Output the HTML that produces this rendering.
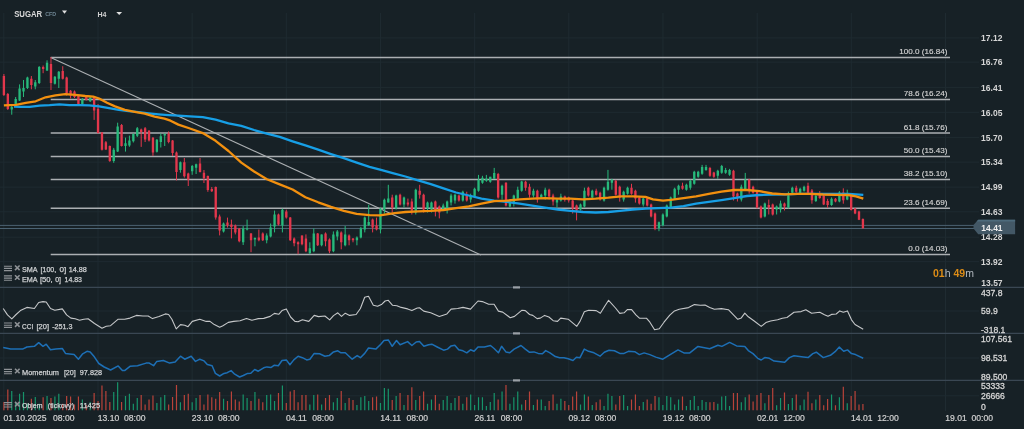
<!DOCTYPE html>
<html><head><meta charset="utf-8"><title>SUGAR H4</title>
<style>html,body{margin:0;padding:0;background:#172126;width:1024px;height:429px;overflow:hidden}</style>
</head><body>
<svg width="1024" height="429" viewBox="0 0 1024 429" style="display:block"><rect width="1024" height="429" fill="#172126"/><path d="M3.80 12.9V411 M97.97 12.9V411 M192.14 12.9V411 M286.31 12.9V411 M380.48 12.9V411 M474.65 12.9V411 M568.82 12.9V411 M662.99 12.9V411 M757.16 12.9V411 M851.33 12.9V411 M945.50 12.9V411 M0 37.95H979 M0 62.10H979 M0 87.35H979 M0 112.30H979 M0 137.35H979 M0 162.10H979 M0 187.15H979 M0 211.80H979 M0 237.20H979 M0 261.65H979 M0 311H979 M0 358H979 M0 395.8H979" stroke="#1f2b31" stroke-width="1" fill="none"/><path d="M50.7 57.6H950 M50.7 99.6H950 M50.7 132.9H950 M50.7 156.5H950 M50.7 179.6H950 M50.7 208.2H950 M50.7 254.6H950" stroke="#abafb2" stroke-width="1.5" fill="none"/><path d="M50.7 57.6L481 255" stroke="#abafb2" stroke-width="1.1" fill="none"/><path d="M0 225.4H975M0 228.5H975" stroke="#4b6272" stroke-width="1" fill="none"/><path d="M3.90 410.3V401.9 M7.82 410.3V389.4 M31.36 410.3V398.75 M43.12 410.3V397.25 M50.97 410.3V397.9 M62.74 410.3V403.75 M66.66 410.3V396.0 M70.58 410.3V396.6 M74.51 410.3V404.4 M78.43 410.3V396.6 M86.27 410.3V405.0 M94.12 410.3V392.9 M98.04 410.3V401.0 M101.96 410.3V385.6 M105.89 410.3V391.0 M109.81 410.3V401.9 M121.58 410.3V401.9 M141.19 410.3V395.0 M145.11 410.3V404.4 M149.03 410.3V399.4 M152.96 410.3V395.6 M168.65 410.3V404.4 M172.57 410.3V396.9 M176.49 410.3V385.0 M184.34 410.3V395.0 M188.26 410.3V393.75 M200.03 410.3V395.0 M203.95 410.3V404.4 M207.87 410.3V394.4 M211.79 410.3V397.25 M215.72 410.3V398.75 M219.64 410.3V392.1 M227.48 410.3V401.0 M231.41 410.3V391.5 M235.33 410.3V399.4 M239.25 410.3V401.5 M251.02 410.3V401.0 M258.86 410.3V398.75 M262.78 410.3V402.25 M278.47 410.3V392.9 M286.32 410.3V402.9 M290.24 410.3V391.5 M294.16 410.3V390.0 M298.09 410.3V402.25 M302.01 410.3V395.0 M305.93 410.3V395.0 M317.70 410.3V394.4 M325.54 410.3V397.9 M329.47 410.3V395.0 M341.23 410.3V390.9 M349.08 410.3V397.9 M353.00 410.3V400.0 M372.61 410.3V397.25 M376.54 410.3V396.6 M392.23 410.3V400.0 M400.07 410.3V392.9 M407.92 410.3V395.0 M411.84 410.3V387.25 M419.68 410.3V396.0 M423.61 410.3V391.6 M435.37 410.3V395.0 M439.30 410.3V403.75 M458.91 410.3V396.0 M466.75 410.3V397.25 M498.13 410.3V399.4 M505.98 410.3V385.0 M525.59 410.3V400.0 M529.51 410.3V391.6 M537.36 410.3V399.4 M549.13 410.3V401.0 M553.05 410.3V394.4 M564.82 410.3V401.0 M568.74 410.3V405.0 M572.66 410.3V396.6 M576.58 410.3V391.6 M588.35 410.3V396.6 M596.20 410.3V402.25 M600.12 410.3V399.4 M615.81 410.3V404.4 M619.73 410.3V396.0 M631.50 410.3V399.4 M635.42 410.3V394.4 M639.34 410.3V406.0 M647.19 410.3V399.4 M651.11 410.3V403.75 M655.03 410.3V396.0 M682.49 410.3V396.6 M709.95 410.3V402.25 M713.87 410.3V401.9 M733.48 410.3V393.0 M737.41 410.3V393.0 M749.17 410.3V394.4 M753.10 410.3V401.6 M757.02 410.3V395.1 M760.94 410.3V393.1 M768.79 410.3V395.1 M772.71 410.3V388.1 M784.48 410.3V392.4 M796.25 410.3V394.4 M808.01 410.3V391.7 M811.93 410.3V403.2 M819.78 410.3V395.1 M823.70 410.3V405.2 M827.62 410.3V398.9 M835.47 410.3V405.2 M843.31 410.3V386.7 M851.16 410.3V395.9 M855.08 410.3V391.0 M859.00 410.3V404.5 M862.93 410.3V404.0" stroke="#b9433a" stroke-width="1.2" fill="none"/><path d="M11.74 410.3V391.0 M15.67 410.3V402.5 M19.59 410.3V393.75 M23.51 410.3V391.9 M27.43 410.3V403.75 M35.28 410.3V396.9 M39.20 410.3V403.75 M47.05 410.3V396.0 M54.89 410.3V396.6 M58.81 410.3V393.75 M82.35 410.3V399.4 M90.20 410.3V401.9 M113.73 410.3V391.9 M117.65 410.3V382.25 M125.50 410.3V396.0 M129.42 410.3V393.75 M133.34 410.3V403.75 M137.27 410.3V397.9 M156.88 410.3V402.9 M160.80 410.3V397.25 M164.72 410.3V395.0 M180.41 410.3V402.25 M192.18 410.3V402.25 M196.10 410.3V397.9 M223.56 410.3V398.75 M243.17 410.3V394.4 M247.09 410.3V397.9 M254.94 410.3V392.1 M266.71 410.3V395.0 M270.63 410.3V394.4 M274.55 410.3V401.0 M282.40 410.3V385.6 M309.85 410.3V404.4 M313.78 410.3V395.0 M321.62 410.3V404.4 M333.39 410.3V402.25 M337.31 410.3V397.9 M345.16 410.3V402.9 M356.92 410.3V405.0 M360.85 410.3V397.25 M364.77 410.3V396.0 M368.69 410.3V401.0 M380.46 410.3V402.9 M384.38 410.3V388.1 M388.30 410.3V388.75 M396.15 410.3V396.0 M403.99 410.3V405.0 M415.76 410.3V400.0 M427.53 410.3V403.75 M431.45 410.3V399.4 M443.22 410.3V400.0 M447.14 410.3V396.0 M451.06 410.3V402.9 M454.99 410.3V397.9 M462.83 410.3V403.75 M470.68 410.3V394.4 M474.60 410.3V405.0 M478.52 410.3V397.25 M482.44 410.3V397.25 M486.37 410.3V406.0 M490.29 410.3V401.9 M494.21 410.3V392.9 M502.06 410.3V391.6 M509.90 410.3V403.75 M513.83 410.3V397.25 M517.75 410.3V391.6 M521.67 410.3V404.4 M533.44 410.3V405.0 M541.28 410.3V399.4 M545.20 410.3V406.0 M556.97 410.3V403.75 M560.89 410.3V398.75 M580.51 410.3V404.4 M584.43 410.3V394.4 M592.27 410.3V405.0 M604.04 410.3V406.0 M607.96 410.3V393.75 M611.89 410.3V396.0 M623.65 410.3V395.0 M627.58 410.3V406.0 M643.27 410.3V401.9 M658.96 410.3V397.25 M662.88 410.3V405.0 M666.80 410.3V396.0 M670.72 410.3V397.25 M674.65 410.3V404.4 M678.57 410.3V399.4 M686.41 410.3V406.0 M690.34 410.3V400.0 M694.26 410.3V396.0 M698.18 410.3V406.0 M702.10 410.3V400.0 M706.03 410.3V401.9 M717.79 410.3V403.75 M721.72 410.3V396.6 M725.64 410.3V396.0 M729.56 410.3V406.0 M741.33 410.3V402.2 M745.25 410.3V397.25 M764.87 410.3V403.2 M776.63 410.3V405.2 M780.55 410.3V397.9 M788.40 410.3V404.0 M792.32 410.3V397.9 M800.17 410.3V405.2 M804.09 410.3V399.5 M815.86 410.3V399.5 M831.55 410.3V394.4 M839.39 410.3V397.25 M847.24 410.3V403.2" stroke="#17946a" stroke-width="1.2" fill="none"/><path d="M3.90 74.0V96.0 M7.82 93.0V110.0 M31.36 76.0V89.3 M43.12 65.5V73.2 M50.97 57.1V90.0 M62.74 66.2V79.5 M66.66 76.7V95.5 M70.58 90.0V98.4 M74.51 90.5V98.0 M78.43 95.0V105.0 M86.27 96.0V100.5 M94.12 96.0V119.9 M98.04 104.0V133.5 M101.96 132.0V150.5 M105.89 141.0V150.0 M109.81 145.5V161.9 M121.58 124.0V146.5 M141.19 128.6V146.9 M145.11 127.0V142.0 M149.03 130.0V141.5 M152.96 137.0V155.9 M168.65 131.4V143.3 M172.57 140.0V155.9 M176.49 151.5V180.4 M184.34 158.0V177.6 M188.26 172.7V186.0 M200.03 158.0V172.5 M203.95 170.0V183.0 M207.87 175.5V191.8 M211.79 187.0V192.0 M215.72 186.5V219.6 M219.64 214.6V235.4 M227.48 217.6V227.5 M231.41 219.6V238.4 M235.33 224.5V234.4 M239.25 228.0V242.3 M251.02 233.0V252.2 M258.86 229.5V241.3 M262.78 232.4V241.0 M278.47 213.6V225.5 M286.32 209.7V218.6 M290.24 217.0V241.0 M294.16 237.4V246.3 M298.09 241.3V254.2 M302.01 235.4V245.3 M305.93 234.4V252.2 M317.70 233.0V246.0 M325.54 232.4V246.3 M329.47 238.4V253.2 M341.23 231.4V249.3 M349.08 234.4V245.3 M353.00 238.0V242.3 M372.61 218.6V232.4 M376.54 217.6V230.4 M392.23 194.7V212.5 M400.07 193.7V205.5 M407.92 198.6V206.5 M411.84 198.6V214.5 M419.68 184.8V198.6 M423.61 193.7V212.5 M435.37 200.6V216.4 M439.30 205.5V218.4 M458.91 194.7V201.6 M466.75 191.7V201.6 M498.13 172.9V198.6 M505.98 182.2V206.5 M525.59 180.8V190.7 M529.51 183.8V197.6 M537.36 189.7V202.6 M549.13 188.7V199.6 M553.05 193.7V205.5 M564.82 195.6V201.6 M568.74 196.6V202.6 M572.66 199.6V213.5 M576.58 204.6V220.4 M588.35 186.7V196.6 M596.20 188.7V195.6 M600.12 191.7V200.6 M615.81 179.8V195.6 M619.73 185.7V201.6 M631.50 183.8V194.7 M635.42 189.7V202.6 M639.34 196.6V204.6 M647.19 197.6V206.5 M651.11 203.6V217.4 M655.03 212.5V230.2 M682.49 182.7V189.7 M709.95 166.9V176.8 M713.87 171.8V177.8 M733.48 169.8V200.5 M737.41 192.6V201.5 M749.17 178.8V193.7 M753.10 185.7V193.7 M757.02 190.7V208.5 M760.94 205.5V218.4 M768.79 199.6V214.5 M772.71 203.6V215.5 M784.48 202.6V210.5 M796.25 185.7V192.7 M808.01 182.7V193.7 M811.93 189.0V203.7 M819.78 191.1V198.8 M823.70 195.0V205.1 M827.62 198.8V207.9 M835.47 198.1V202.3 M843.31 188.3V203.7 M851.16 195.0V210.5 M855.08 207.9V214.2 M859.00 210.7V220.1 M862.93 218.4V228.5" stroke="#e3374c" stroke-width="1" fill="none"/><path d="M11.74 106.0V114.7 M15.67 97.0V105.0 M19.59 84.4V101.0 M23.51 80.0V97.0 M27.43 76.7V89.0 M35.28 80.0V89.3 M39.20 66.0V84.0 M47.05 60.3V71.0 M54.89 76.0V84.5 M58.81 71.0V88.0 M82.35 98.0V105.0 M90.20 96.5V102.0 M113.73 147.9V162.8 M117.65 122.7V152.0 M125.50 137.6V151.6 M129.42 135.6V146.8 M133.34 133.5V142.5 M137.27 127.0V137.0 M156.88 139.0V152.5 M160.80 133.5V147.5 M164.72 133.5V146.0 M180.41 161.5V172.7 M192.18 165.0V174.8 M196.10 163.6V174.0 M223.56 222.5V232.5 M243.17 226.0V245.0 M247.09 219.6V230.4 M254.94 237.4V246.3 M266.71 233.4V243.3 M270.63 223.5V237.4 M274.55 210.6V232.4 M282.40 208.7V232.4 M309.85 242.3V254.2 M313.78 228.5V252.2 M321.62 234.4V246.3 M333.39 231.4V252.2 M337.31 230.0V240.3 M345.16 226.0V246.3 M356.92 236.4V245.3 M360.85 226.9V238.4 M364.77 216.6V232.4 M368.69 204.7V226.0 M380.46 207.7V233.4 M384.38 198.6V213.6 M388.30 184.8V202.6 M396.15 194.7V209.5 M403.99 196.6V207.5 M415.76 188.7V214.5 M427.53 201.6V212.5 M431.45 201.6V212.5 M443.22 203.6V210.5 M447.14 200.6V213.5 M451.06 193.7V205.5 M454.99 193.7V203.6 M462.83 190.7V201.6 M470.68 193.7V202.6 M474.60 187.7V197.6 M478.52 174.9V191.7 M482.44 175.8V183.8 M486.37 174.9V181.8 M490.29 176.8V182.8 M494.21 167.9V178.8 M502.06 184.7V199.6 M509.90 200.6V207.5 M513.83 194.7V206.5 M517.75 186.7V199.6 M521.67 180.8V191.7 M533.44 188.7V197.6 M541.28 193.7V198.6 M545.20 187.7V199.6 M556.97 198.6V207.5 M560.89 193.7V201.6 M580.51 203.6V210.5 M584.43 187.7V207.5 M592.27 189.7V198.6 M604.04 186.7V201.6 M607.96 169.9V190.7 M611.89 178.8V189.7 M623.65 190.7V201.6 M627.58 186.7V194.7 M643.27 197.6V206.5 M658.96 221.5V231.2 M662.88 213.4V226.3 M666.80 204.5V217.4 M670.72 196.6V208.5 M674.65 187.7V199.6 M678.57 184.7V194.7 M686.41 183.7V190.7 M690.34 179.7V189.7 M694.26 170.8V184.7 M698.18 170.8V177.8 M702.10 164.9V174.8 M706.03 164.9V170.8 M717.79 169.8V178.8 M721.72 164.9V173.8 M725.64 167.9V173.8 M729.56 168.9V175.8 M741.33 184.7V201.5 M745.25 172.9V190.7 M764.87 202.6V217.4 M776.63 205.5V214.5 M780.55 200.6V212.5 M788.40 191.7V208.5 M792.32 186.7V193.7 M800.17 187.7V193.7 M804.09 185.7V191.7 M815.86 195.0V202.0 M831.55 197.4V205.8 M839.39 191.1V202.3 M847.24 189.7V200.2" stroke="#27b97b" stroke-width="1" fill="none"/><path d="M2.72 76.0h2.35V95.0h-2.35z M6.65 94.0h2.35V109.0h-2.35z M30.18 78.8h2.35V85.0h-2.35z M41.95 66.9h2.35V69.0h-2.35z M49.80 64.0h2.35V83.0h-2.35z M61.56 71.0h2.35V78.8h-2.35z M65.48 77.4h2.35V93.5h-2.35z M69.41 90.7h2.35V95.6h-2.35z M73.33 91.4h2.35V97.0h-2.35z M77.25 95.6h2.35V104.0h-2.35z M85.10 97.0h2.35V99.8h-2.35z M92.94 97.0h2.35V110.5h-2.35z M96.87 108.7h2.35V133.0h-2.35z M100.79 132.6h2.35V149.7h-2.35z M104.71 142.3h2.35V149.4h-2.35z M108.63 146.0h2.35V161.0h-2.35z M120.40 125.0h2.35V146.0h-2.35z M140.01 129.6h2.35V132.0h-2.35z M143.94 128.3h2.35V139.5h-2.35z M147.86 130.7h2.35V140.5h-2.35z M151.78 137.7h2.35V152.4h-2.35z M167.47 133.5h2.35V141.9h-2.35z M171.39 140.5h2.35V153.0h-2.35z M175.31 152.4h2.35V172.0h-2.35z M183.16 162.2h2.35V176.2h-2.35z M187.08 173.4h2.35V179.7h-2.35z M198.85 163.6h2.35V172.0h-2.35z M202.77 172.7h2.35V178.3h-2.35z M206.69 176.0h2.35V189.9h-2.35z M210.62 188.9h2.35V191.2h-2.35z M214.54 186.9h2.35V217.6h-2.35z M218.46 216.6h2.35V230.4h-2.35z M226.31 222.5h2.35V225.5h-2.35z M230.23 224.5h2.35V226.9h-2.35z M234.15 225.5h2.35V232.4h-2.35z M238.07 228.5h2.35V241.3h-2.35z M249.84 233.4h2.35V240.3h-2.35z M257.69 237.4h2.35V240.3h-2.35z M261.61 233.4h2.35V240.3h-2.35z M277.30 214.6h2.35V224.5h-2.35z M285.14 211.6h2.35V217.6h-2.35z M289.07 217.6h2.35V240.3h-2.35z M292.99 238.4h2.35V243.3h-2.35z M296.91 242.3h2.35V244.3h-2.35z M300.83 235.4h2.35V244.3h-2.35z M304.76 238.4h2.35V251.2h-2.35z M316.52 233.4h2.35V245.3h-2.35z M324.37 233.4h2.35V241.3h-2.35z M328.29 239.4h2.35V251.2h-2.35z M340.06 232.4h2.35V242.3h-2.35z M347.90 235.4h2.35V240.3h-2.35z M351.83 238.4h2.35V240.3h-2.35z M371.44 219.6h2.35V227.5h-2.35z M375.36 225.5h2.35V229.5h-2.35z M391.05 197.6h2.35V207.5h-2.35z M398.90 194.7h2.35V204.6h-2.35z M406.74 202.6h2.35V204.6h-2.35z M410.66 201.6h2.35V210.5h-2.35z M418.51 190.7h2.35V194.7h-2.35z M422.43 194.7h2.35V209.5h-2.35z M434.20 201.6h2.35V210.5h-2.35z M438.12 206.5h2.35V212.5h-2.35z M457.73 195.6h2.35V200.6h-2.35z M465.58 195.6h2.35V200.6h-2.35z M496.96 173.9h2.35V197.6h-2.35z M504.80 182.8h2.35V205.5h-2.35z M524.42 181.8h2.35V187.7h-2.35z M528.34 186.7h2.35V194.7h-2.35z M536.19 190.7h2.35V199.6h-2.35z M547.95 189.7h2.35V196.6h-2.35z M551.88 195.6h2.35V201.6h-2.35z M563.64 196.6h2.35V199.6h-2.35z M567.57 197.6h2.35V200.6h-2.35z M571.49 200.6h2.35V208.5h-2.35z M575.41 205.5h2.35V210.5h-2.35z M587.18 187.7h2.35V195.6h-2.35z M595.02 190.7h2.35V194.7h-2.35z M598.95 192.7h2.35V199.6h-2.35z M614.63 180.8h2.35V194.7h-2.35z M618.56 186.7h2.35V197.6h-2.35z M630.33 187.7h2.35V193.7h-2.35z M634.25 190.7h2.35V198.6h-2.35z M638.17 197.6h2.35V203.6h-2.35z M646.01 198.6h2.35V205.5h-2.35z M649.94 204.6h2.35V216.4h-2.35z M653.86 213.5h2.35V228.8h-2.35z M681.32 185.7h2.35V188.7h-2.35z M708.77 167.9h2.35V175.8h-2.35z M712.70 172.4h2.35V176.8h-2.35z M732.31 170.8h2.35V196.6h-2.35z M736.23 193.6h2.35V197.6h-2.35z M748.00 179.8h2.35V189.7h-2.35z M751.92 186.7h2.35V192.7h-2.35z M755.85 191.7h2.35V207.5h-2.35z M759.77 206.5h2.35V217.4h-2.35z M767.61 205.1h2.35V207.5h-2.35z M771.53 204.6h2.35V214.5h-2.35z M783.30 203.6h2.35V206.5h-2.35z M795.07 187.7h2.35V191.7h-2.35z M806.84 185.7h2.35V192.7h-2.35z M810.76 190.4h2.35V200.2h-2.35z M818.61 193.9h2.35V198.1h-2.35z M822.53 196.0h2.35V204.4h-2.35z M826.45 200.9h2.35V205.1h-2.35z M834.29 198.8h2.35V201.6h-2.35z M842.14 192.5h2.35V200.2h-2.35z M849.99 196.0h2.35V210.0h-2.35z M853.91 208.6h2.35V213.5h-2.35z M857.83 211.4h2.35V219.8h-2.35z M861.75 219.1h2.35V228.2h-2.35z" fill="#e3374c"/><path d="M10.57 107.0h2.35V109.6h-2.35z M14.49 99.0h2.35V104.0h-2.35z M18.41 88.6h2.35V100.5h-2.35z M22.34 88.0h2.35V91.4h-2.35z M26.26 77.4h2.35V88.0h-2.35z M34.11 82.3h2.35V86.5h-2.35z M38.03 66.9h2.35V83.0h-2.35z M45.87 62.7h2.35V70.4h-2.35z M53.72 76.7h2.35V83.7h-2.35z M57.64 71.8h2.35V78.8h-2.35z M81.18 99.0h2.35V104.0h-2.35z M89.02 97.7h2.35V101.2h-2.35z M112.56 149.7h2.35V161.0h-2.35z M116.48 126.4h2.35V151.6h-2.35z M124.32 143.2h2.35V146.0h-2.35z M128.24 140.4h2.35V145.6h-2.35z M132.17 133.9h2.35V141.3h-2.35z M136.09 128.3h2.35V135.7h-2.35z M155.70 139.8h2.35V151.7h-2.35z M159.62 136.3h2.35V141.9h-2.35z M163.55 133.9h2.35V135.6h-2.35z M179.24 162.2h2.35V169.9h-2.35z M191.00 166.0h2.35V171.3h-2.35z M194.93 164.3h2.35V167.8h-2.35z M222.38 223.5h2.35V231.4h-2.35z M242.00 228.5h2.35V242.3h-2.35z M245.92 228.5h2.35V229.5h-2.35z M253.76 238.0h2.35V239.4h-2.35z M265.53 235.4h2.35V240.3h-2.35z M269.45 227.5h2.35V236.4h-2.35z M273.38 214.6h2.35V226.5h-2.35z M281.22 209.7h2.35V225.5h-2.35z M308.68 248.3h2.35V253.2h-2.35z M312.60 233.4h2.35V251.2h-2.35z M320.45 234.4h2.35V245.3h-2.35z M332.21 234.4h2.35V251.2h-2.35z M336.14 231.4h2.35V236.4h-2.35z M343.98 234.4h2.35V245.3h-2.35z M355.75 237.4h2.35V240.3h-2.35z M359.67 228.5h2.35V237.4h-2.35z M363.59 217.6h2.35V229.5h-2.35z M367.52 222.0h2.35V225.0h-2.35z M379.28 208.7h2.35V229.5h-2.35z M383.21 199.7h2.35V209.6h-2.35z M387.13 198.6h2.35V202.6h-2.35z M394.97 195.6h2.35V208.5h-2.35z M402.82 197.6h2.35V204.6h-2.35z M414.59 189.7h2.35V212.5h-2.35z M426.35 202.6h2.35V208.5h-2.35z M430.28 202.6h2.35V209.5h-2.35z M442.04 205.5h2.35V209.5h-2.35z M445.97 201.6h2.35V208.5h-2.35z M449.89 195.6h2.35V202.6h-2.35z M453.81 194.7h2.35V200.6h-2.35z M461.66 191.7h2.35V200.6h-2.35z M469.50 195.6h2.35V199.6h-2.35z M473.42 188.7h2.35V196.6h-2.35z M477.35 179.8h2.35V190.7h-2.35z M481.27 177.8h2.35V182.8h-2.35z M485.19 178.8h2.35V180.8h-2.35z M489.11 176.8h2.35V181.8h-2.35z M493.04 172.9h2.35V178.8h-2.35z M500.88 185.7h2.35V194.7h-2.35z M508.73 202.6h2.35V206.5h-2.35z M512.65 195.6h2.35V202.6h-2.35z M516.57 189.7h2.35V198.6h-2.35z M520.50 181.4h2.35V190.7h-2.35z M532.26 190.7h2.35V195.6h-2.35z M540.11 194.7h2.35V197.6h-2.35z M544.03 189.7h2.35V195.6h-2.35z M555.80 199.6h2.35V202.6h-2.35z M559.72 196.6h2.35V200.6h-2.35z M579.33 204.6h2.35V209.5h-2.35z M583.25 190.7h2.35V206.5h-2.35z M591.10 190.7h2.35V197.6h-2.35z M602.87 187.7h2.35V200.6h-2.35z M606.79 181.8h2.35V189.7h-2.35z M610.71 179.8h2.35V182.8h-2.35z M622.48 191.7h2.35V199.6h-2.35z M626.40 187.7h2.35V193.7h-2.35z M642.09 198.6h2.35V204.6h-2.35z M657.78 222.3h2.35V228.3h-2.35z M661.71 214.4h2.35V225.3h-2.35z M665.63 205.5h2.35V216.4h-2.35z M669.55 197.6h2.35V207.5h-2.35z M673.47 188.7h2.35V198.6h-2.35z M677.39 185.7h2.35V189.7h-2.35z M685.24 184.7h2.35V189.7h-2.35z M689.16 180.7h2.35V187.7h-2.35z M693.09 171.8h2.35V183.7h-2.35z M697.01 171.8h2.35V176.8h-2.35z M700.93 166.9h2.35V173.8h-2.35z M704.85 166.9h2.35V169.9h-2.35z M716.62 170.8h2.35V175.8h-2.35z M720.54 165.9h2.35V172.8h-2.35z M724.47 169.9h2.35V172.8h-2.35z M728.39 169.9h2.35V174.8h-2.35z M740.15 186.7h2.35V199.6h-2.35z M744.08 179.8h2.35V189.7h-2.35z M763.69 203.6h2.35V216.4h-2.35z M775.46 206.5h2.35V209.5h-2.35z M779.38 203.6h2.35V209.5h-2.35z M787.23 195.6h2.35V207.5h-2.35z M791.15 187.7h2.35V192.7h-2.35z M798.99 188.7h2.35V192.7h-2.35z M802.91 186.7h2.35V190.7h-2.35z M814.68 196.0h2.35V200.9h-2.35z M830.37 198.8h2.35V205.1h-2.35z M838.22 192.5h2.35V201.6h-2.35z M846.06 193.2h2.35V199.5h-2.35z" fill="#27b97b"/><path d="M14.0 106.5 L19.8 106.8 L29.7 106.8 L39.6 105.6 L49.6 105.2 L59.5 104.4 L69.4 105.2 L79.3 105.2 L89.2 105.4 L99.1 106.4 L109.0 108.2 L118.9 109.8 L128.8 111.2 L138.8 112.2 L148.7 113.3 L158.6 114.3 L168.5 115.1 L178.4 115.7 L190.0 116.4 L202.8 117.2 L215.6 119.7 L228.5 123.3 L241.3 125.9 L254.1 130.0 L266.9 133.6 L279.7 136.9 L292.6 141.3 L305.4 145.4 L318.2 149.7 L331.0 154.1 L343.8 158.2 L356.7 162.6 L369.5 166.9 L380.0 169.6 L392.7 173.2 L405.4 176.5 L418.1 180.3 L430.8 184.1 L443.5 188.4 L456.1 192.5 L468.8 195.5 L481.5 198.6 L494.2 200.6 L506.9 201.9 L519.6 203.7 L532.3 205.7 L545.0 207.7 L557.7 209.5 L570.4 210.8 L583.0 212.0 L595.7 212.5 L608.4 212.0 L620.0 210.8 L632.7 209.5 L645.4 208.7 L658.1 208.2 L670.8 207.7 L683.5 206.2 L696.1 203.7 L708.8 201.9 L721.5 200.1 L734.2 198.1 L746.9 196.0 L759.6 195.0 L772.3 194.5 L785.0 194.3 L797.7 193.8 L810.4 193.8 L823.0 194.0 L835.7 194.0 L848.4 193.8 L863.3 194.9" stroke="#179fe6" stroke-width="2.3" fill="none" stroke-linejoin="round" stroke-linecap="butt"/><path d="M3.9 105.3 L15.9 104.8 L25.8 102.8 L35.7 101.3 L45.6 97.3 L55.5 95.3 L65.4 94.1 L75.3 94.9 L85.2 96.0 L93.2 96.6 L99.1 98.5 L107.0 102.8 L115.0 106.4 L124.9 109.8 L134.8 111.8 L144.7 113.7 L154.6 116.7 L164.5 118.7 L170.5 120.7 L178.4 124.6 L190.0 128.5 L202.8 133.1 L215.6 140.8 L228.5 151.0 L241.3 162.6 L254.1 171.5 L266.9 179.2 L279.7 184.4 L292.6 189.5 L305.4 197.2 L318.2 202.3 L331.0 206.9 L343.8 210.8 L356.7 213.8 L369.5 215.1 L380.0 215.3 L392.7 213.3 L405.4 212.0 L418.1 211.3 L430.8 210.8 L443.5 210.0 L456.1 208.2 L468.8 206.4 L481.5 203.7 L494.2 201.1 L506.9 200.6 L519.6 199.3 L532.3 198.6 L545.0 198.1 L557.7 198.6 L570.4 198.6 L583.0 199.3 L595.7 198.6 L608.4 197.6 L621.1 196.3 L632.7 196.3 L645.4 196.8 L653.0 199.3 L663.1 200.6 L670.8 199.8 L683.5 198.1 L696.1 196.3 L708.8 193.8 L721.5 191.7 L734.2 190.0 L746.9 190.0 L759.6 191.2 L772.3 193.5 L785.0 194.3 L797.7 193.8 L810.4 193.8 L823.0 194.5 L835.7 194.8 L848.4 195.0 L856.0 196.3 L863.3 198.7" stroke="#f2900f" stroke-width="2.3" fill="none" stroke-linejoin="round" stroke-linecap="butt"/><path d="M3.2 308.5 L7.5 314.9 L11.8 318.8 L16.1 314.5 L20.4 310.6 L26.9 307.4 L34.4 308.5 L38.7 302.5 L43.0 301.6 L46.2 302.0 L50.5 308.5 L54.8 310.2 L62.3 308.9 L66.6 314.9 L70.9 318.1 L75.2 318.8 L79.5 320.3 L83.8 319.2 L88.1 318.8 L94.5 323.5 L102.0 328.2 L106.3 326.3 L110.6 325.7 L118.2 319.2 L124.6 319.2 L130.0 318.1 L136.4 315.4 L142.9 316.0 L148.2 316.0 L152.5 318.6 L159.0 316.4 L165.4 313.9 L168.6 314.5 L171.9 319.2 L176.2 328.9 L180.5 324.6 L184.7 325.2 L188.0 326.7 L192.3 321.4 L199.8 319.2 L206.2 321.4 L210.0 321.4 L214.3 324.6 L219.7 327.2 L222.9 325.7 L228.3 322.4 L233.6 321.4 L240.1 320.7 L246.5 318.6 L251.9 320.3 L258.3 318.6 L263.7 318.4 L270.2 316.4 L274.4 313.4 L278.7 314.3 L282.0 310.6 L286.3 308.9 L290.6 317.0 L294.9 321.4 L298.1 321.8 L302.4 319.7 L308.8 321.4 L314.2 315.4 L318.5 316.6 L324.9 316.0 L329.7 319.9 L333.5 315.6 L337.8 312.8 L341.5 316.4 L345.3 313.2 L349.6 315.4 L356.1 314.5 L360.4 308.5 L364.7 297.3 L368.5 296.2 L373.3 305.3 L377.6 306.3 L381.9 304.2 L385.1 301.0 L388.3 300.3 L392.6 305.3 L396.9 305.7 L401.2 307.4 L407.6 308.9 L411.9 310.6 L417.3 308.0 L419.5 307.8 L423.7 311.1 L430.7 312.8 L439.3 316.4 L446.9 313.9 L451.1 309.1 L457.6 308.5 L463.0 307.4 L470.5 309.1 L478.0 301.0 L482.3 301.6 L488.7 304.2 L494.1 304.2 L498.4 311.1 L502.7 312.1 L510.2 317.7 L514.5 316.4 L522.0 310.2 L525.3 310.6 L529.6 314.5 L532.8 315.4 L537.1 318.6 L540.3 318.1 L544.6 315.4 L548.9 317.0 L553.2 320.7 L557.5 321.4 L560.7 318.1 L568.2 319.2 L576.8 326.3 L580.0 321.4 L584.3 311.7 L588.6 310.2 L596.2 310.6 L600.4 313.2 L604.7 306.3 L608.6 300.3 L615.5 308.0 L619.8 313.4 L624.1 312.8 L627.3 309.6 L631.6 309.6 L635.9 314.9 L639.4 318.2 L646.4 318.2 L649.9 322.2 L654.6 329.7 L659.3 328.7 L664.0 322.2 L669.8 315.1 L674.5 310.9 L679.2 309.3 L688.6 307.6 L694.4 304.6 L700.3 305.3 L705.0 305.0 L709.7 307.4 L714.4 309.3 L721.4 308.6 L728.4 309.7 L737.8 319.3 L741.3 317.9 L744.8 313.2 L748.3 316.8 L754.2 321.0 L761.2 326.4 L765.9 322.6 L770.6 321.0 L777.6 319.8 L782.3 318.2 L787.0 317.5 L794.0 312.3 L801.1 311.6 L805.8 309.7 L811.6 313.2 L819.8 312.3 L824.5 314.7 L828.0 316.3 L831.5 314.4 L836.2 314.0 L839.8 310.9 L843.3 312.3 L847.5 310.9 L851.5 319.8 L855.0 324.5 L863.2 329.2" stroke="#c5c7c9" stroke-width="1.1" fill="none" stroke-linejoin="round"/><path d="M3.2 347.6 L10.7 349.1 L22.6 349.1 L26.9 347.0 L34.4 346.3 L38.7 342.7 L43.0 346.3 L46.2 344.2 L50.5 349.8 L55.9 349.1 L62.3 348.5 L65.5 353.4 L74.1 354.5 L78.4 359.2 L82.7 353.8 L87.0 351.3 L90.2 351.9 L94.5 357.1 L98.8 363.5 L104.2 367.0 L110.6 370.0 L118.2 365.9 L122.4 370.6 L124.6 370.6 L130.0 366.3 L137.5 365.7 L146.1 363.1 L149.3 363.1 L153.6 365.7 L156.8 361.4 L163.3 360.5 L169.7 363.1 L175.1 362.0 L180.5 356.2 L184.7 359.2 L191.2 356.2 L195.5 361.4 L199.8 359.2 L204.1 360.9 L207.3 364.6 L212.1 365.7 L215.4 373.4 L219.7 376.0 L224.0 373.4 L227.2 372.7 L231.1 370.6 L234.7 374.2 L239.6 377.0 L243.3 375.5 L247.6 373.4 L250.8 373.2 L254.7 369.5 L258.3 371.2 L263.7 367.8 L266.9 366.9 L271.2 367.4 L274.4 365.2 L278.3 365.7 L282.0 360.5 L286.3 359.9 L289.9 364.8 L293.8 359.9 L298.1 356.2 L302.4 357.7 L306.7 359.9 L309.9 359.2 L314.2 353.4 L319.6 353.8 L324.9 356.2 L329.2 355.6 L333.5 351.9 L337.8 350.8 L341.0 352.8 L345.3 352.8 L352.2 359.2 L357.2 355.6 L360.4 357.7 L364.7 353.4 L368.5 348.0 L375.8 349.1 L380.8 344.2 L384.0 340.5 L388.3 339.9 L392.2 346.3 L396.5 340.5 L400.1 344.8 L407.6 341.6 L411.9 345.5 L416.2 342.0 L419.5 341.6 L423.9 346.3 L428.6 344.8 L431.8 344.2 L437.2 347.0 L443.6 350.2 L447.5 349.1 L451.1 345.9 L454.8 345.2 L458.7 349.8 L463.0 350.8 L466.8 352.8 L470.5 349.8 L474.1 351.3 L478.0 347.0 L484.4 347.0 L490.5 345.5 L494.1 348.5 L498.4 352.8 L501.6 346.3 L505.9 351.9 L509.8 352.8 L514.1 349.1 L521.0 345.5 L525.3 349.1 L529.6 352.3 L533.9 351.9 L538.2 353.4 L542.4 353.8 L545.7 350.6 L550.0 352.8 L555.3 356.6 L559.6 357.7 L563.9 357.7 L568.2 358.8 L573.0 360.5 L576.4 357.3 L580.0 357.7 L584.3 349.1 L588.6 351.3 L594.0 352.8 L600.0 356.2 L604.3 352.3 L609.0 350.2 L614.4 350.8 L619.8 353.4 L624.1 353.4 L628.4 351.3 L634.7 351.7 L639.4 354.6 L644.1 352.9 L649.9 354.6 L655.8 357.1 L662.8 359.2 L671.0 354.1 L678.0 349.9 L683.9 352.9 L689.8 352.9 L698.0 346.4 L709.7 348.7 L717.9 345.2 L721.9 346.4 L729.6 342.4 L736.6 345.9 L744.8 346.4 L748.3 350.6 L753.0 353.6 L757.7 358.3 L761.2 360.0 L764.8 357.6 L769.4 358.3 L774.1 361.1 L784.7 362.3 L789.4 357.6 L794.0 355.7 L803.4 356.9 L808.1 357.6 L812.8 353.6 L816.3 352.2 L823.3 357.6 L830.4 355.3 L835.1 351.7 L839.3 347.1 L843.7 351.3 L847.5 349.9 L851.5 353.6 L855.5 354.6 L863.2 358.3" stroke="#1d6fb5" stroke-width="1.5" fill="none" stroke-linejoin="round"/><path d="M0 287.3H1024M0 333.3H1024M0 380.3H1024" stroke="#3a4753" stroke-width="1.3" fill="none"/><rect x="513" y="286.3" width="7" height="2.2" fill="#9aa0a6"/><rect x="513" y="332.3" width="7" height="2.2" fill="#9aa0a6"/><rect x="513" y="379.3" width="7" height="2.2" fill="#9aa0a6"/><text x="14.2" y="16.8" font-family="Liberation Sans, Arial, sans-serif" font-size="9.5" font-weight="bold" fill="#d9d9d9" textLength="28" lengthAdjust="spacingAndGlyphs">SUGAR</text><text x="45.2" y="15.9" font-family="Liberation Sans, Arial, sans-serif" font-size="6" font-weight="bold" fill="#6f8694" textLength="11" lengthAdjust="spacingAndGlyphs">CFD</text><path d="M62 10.6H67L64.5 13.7Z" fill="#e0e0e0"/><text x="97.4" y="17.2" font-family="Liberation Sans, Arial, sans-serif" font-size="7.3" font-weight="bold" fill="#d0d0d0" textLength="9" lengthAdjust="spacingAndGlyphs">H4</text><path d="M116.3 12H122.1L119.2 15.1Z" fill="#e0e0e0"/><text x="947.5" y="54.3" font-family="Liberation Sans, Arial, sans-serif" font-size="8.1" fill="#d4d4d4" stroke="#d4d4d4" stroke-width="0.15" text-anchor="end">100.0 (16.84)</text><text x="947.5" y="96.3" font-family="Liberation Sans, Arial, sans-serif" font-size="8.1" fill="#d4d4d4" stroke="#d4d4d4" stroke-width="0.15" text-anchor="end">78.6 (16.24)</text><text x="947.5" y="129.6" font-family="Liberation Sans, Arial, sans-serif" font-size="8.1" fill="#d4d4d4" stroke="#d4d4d4" stroke-width="0.15" text-anchor="end">61.8 (15.76)</text><text x="947.5" y="153.2" font-family="Liberation Sans, Arial, sans-serif" font-size="8.1" fill="#d4d4d4" stroke="#d4d4d4" stroke-width="0.15" text-anchor="end">50.0 (15.43)</text><text x="947.5" y="176.3" font-family="Liberation Sans, Arial, sans-serif" font-size="8.1" fill="#d4d4d4" stroke="#d4d4d4" stroke-width="0.15" text-anchor="end">38.2 (15.10)</text><text x="947.5" y="204.9" font-family="Liberation Sans, Arial, sans-serif" font-size="8.1" fill="#d4d4d4" stroke="#d4d4d4" stroke-width="0.15" text-anchor="end">23.6 (14.69)</text><text x="947.5" y="251.3" font-family="Liberation Sans, Arial, sans-serif" font-size="8.1" fill="#d4d4d4" stroke="#d4d4d4" stroke-width="0.15" text-anchor="end">0.0 (14.03)</text><text x="981.1" y="41.2" font-family="Liberation Sans, Arial, sans-serif" font-size="9" font-weight="bold" fill="#d6d6d6" textLength="21.3" lengthAdjust="spacingAndGlyphs">17.12</text><text x="981.1" y="65.3" font-family="Liberation Sans, Arial, sans-serif" font-size="9" font-weight="bold" fill="#d6d6d6" textLength="21.3" lengthAdjust="spacingAndGlyphs">16.76</text><text x="981.1" y="90.5" font-family="Liberation Sans, Arial, sans-serif" font-size="9" font-weight="bold" fill="#d6d6d6" textLength="21.3" lengthAdjust="spacingAndGlyphs">16.41</text><text x="981.1" y="115.5" font-family="Liberation Sans, Arial, sans-serif" font-size="9" font-weight="bold" fill="#d6d6d6" textLength="21.3" lengthAdjust="spacingAndGlyphs">16.05</text><text x="981.1" y="140.5" font-family="Liberation Sans, Arial, sans-serif" font-size="9" font-weight="bold" fill="#d6d6d6" textLength="21.3" lengthAdjust="spacingAndGlyphs">15.70</text><text x="981.1" y="165.3" font-family="Liberation Sans, Arial, sans-serif" font-size="9" font-weight="bold" fill="#d6d6d6" textLength="21.3" lengthAdjust="spacingAndGlyphs">15.34</text><text x="981.1" y="190.3" font-family="Liberation Sans, Arial, sans-serif" font-size="9" font-weight="bold" fill="#d6d6d6" textLength="21.3" lengthAdjust="spacingAndGlyphs">14.99</text><text x="981.1" y="215.0" font-family="Liberation Sans, Arial, sans-serif" font-size="9" font-weight="bold" fill="#d6d6d6" textLength="21.3" lengthAdjust="spacingAndGlyphs">14.63</text><text x="981.1" y="240.4" font-family="Liberation Sans, Arial, sans-serif" font-size="9" font-weight="bold" fill="#d6d6d6" textLength="21.3" lengthAdjust="spacingAndGlyphs">14.28</text><text x="981.1" y="264.8" font-family="Liberation Sans, Arial, sans-serif" font-size="9" font-weight="bold" fill="#d6d6d6" textLength="21.3" lengthAdjust="spacingAndGlyphs">13.92</text><text x="981.3" y="286" font-family="Liberation Sans, Arial, sans-serif" font-size="9.4" font-weight="bold" fill="#d6d6d6" textLength="21.3" lengthAdjust="spacingAndGlyphs">13.57</text><path d="M973.5 224.9L978.2 219.8H1015.1V234.3H978.2L973.5 228.6Z" fill="#435866"/><path d="M977 221.1L978.4 219.8H1015.1V221.6H976.6Z" fill="#4d6b7c"/><text x="981.3" y="231" font-family="Liberation Sans, Arial, sans-serif" font-size="9.4" font-weight="bold" fill="#f0f0f0" textLength="21.3" lengthAdjust="spacingAndGlyphs">14.41</text><text x="933" y="276.5" font-family="Liberation Sans, Arial, sans-serif" font-size="10.5" font-weight="bold"><tspan fill="#dc8c16">01</tspan><tspan fill="#b4bbc1" font-weight="normal">h </tspan><tspan fill="#dc8c16">49</tspan><tspan fill="#b4bbc1" font-weight="normal">m</tspan></text><text x="981" y="295.7" font-family="Liberation Sans, Arial, sans-serif" font-size="8.6" fill="#d4d4d4" stroke="#d4d4d4" stroke-width="0.3">437.8</text><text x="981" y="313.6" font-family="Liberation Sans, Arial, sans-serif" font-size="8.6" fill="#d4d4d4" stroke="#d4d4d4" stroke-width="0.3">59.9</text><text x="981" y="333" font-family="Liberation Sans, Arial, sans-serif" font-size="8.6" fill="#d4d4d4" stroke="#d4d4d4" stroke-width="0.3">-318.1</text><text x="981" y="342" font-family="Liberation Sans, Arial, sans-serif" font-size="8.6" fill="#d4d4d4" stroke="#d4d4d4" stroke-width="0.3">107.561</text><text x="981" y="361" font-family="Liberation Sans, Arial, sans-serif" font-size="8.6" fill="#d4d4d4" stroke="#d4d4d4" stroke-width="0.3">98.531</text><text x="981" y="380" font-family="Liberation Sans, Arial, sans-serif" font-size="8.6" fill="#d4d4d4" stroke="#d4d4d4" stroke-width="0.3">89.500</text><text x="981" y="389.3" font-family="Liberation Sans, Arial, sans-serif" font-size="8.6" fill="#d4d4d4" stroke="#d4d4d4" stroke-width="0.3">53333</text><text x="981" y="399" font-family="Liberation Sans, Arial, sans-serif" font-size="8.6" fill="#d4d4d4" stroke="#d4d4d4" stroke-width="0.3">26666</text><text x="981" y="410" font-family="Liberation Sans, Arial, sans-serif" font-size="8.6" fill="#d4d4d4" stroke="#d4d4d4" stroke-width="0.3">0</text><path d="M4 266.2h8M4 268.4h8M4 270.6h8" stroke="#8e9296" stroke-width="1.1"/><path d="M15 265.5l4.6 4.6m0 -4.6l-4.6 4.6" stroke="#8e9296" stroke-width="1.6"/><text x="22" y="271.8" font-family="Liberation Sans, Arial, sans-serif" font-size="7.2" fill="#cfd1d3" stroke="#cfd1d3" stroke-width="0.25" textLength="15.6" lengthAdjust="spacingAndGlyphs">SMA</text><text x="40.5" y="271.8" font-family="Liberation Sans, Arial, sans-serif" font-size="7.2" fill="#cfd1d3" stroke="#cfd1d3" stroke-width="0.25" textLength="15.7" lengthAdjust="spacingAndGlyphs">[100,</text><text x="59.6" y="271.8" font-family="Liberation Sans, Arial, sans-serif" font-size="7.2" fill="#cfd1d3" stroke="#cfd1d3" stroke-width="0.25" textLength="6.8" lengthAdjust="spacingAndGlyphs">0]</text><text x="68.8" y="271.8" font-family="Liberation Sans, Arial, sans-serif" font-size="7.2" fill="#cfd1d3" stroke="#cfd1d3" stroke-width="0.25" textLength="18.1" lengthAdjust="spacingAndGlyphs">14.88</text><path d="M4 275.9h8M4 278.1h8M4 280.3h8" stroke="#8e9296" stroke-width="1.1"/><path d="M15 275.2l4.6 4.6m0 -4.6l-4.6 4.6" stroke="#8e9296" stroke-width="1.6"/><text x="22" y="281.5" font-family="Liberation Sans, Arial, sans-serif" font-size="7.2" fill="#cfd1d3" stroke="#cfd1d3" stroke-width="0.25" textLength="15.6" lengthAdjust="spacingAndGlyphs">EMA</text><text x="40" y="281.5" font-family="Liberation Sans, Arial, sans-serif" font-size="7.2" fill="#cfd1d3" stroke="#cfd1d3" stroke-width="0.25" textLength="12.7" lengthAdjust="spacingAndGlyphs">[50,</text><text x="55.2" y="281.5" font-family="Liberation Sans, Arial, sans-serif" font-size="7.2" fill="#cfd1d3" stroke="#cfd1d3" stroke-width="0.25" textLength="5.8" lengthAdjust="spacingAndGlyphs">0]</text><text x="64.5" y="281.5" font-family="Liberation Sans, Arial, sans-serif" font-size="7.2" fill="#cfd1d3" stroke="#cfd1d3" stroke-width="0.25" textLength="17.5" lengthAdjust="spacingAndGlyphs">14.83</text><path d="M4 323.0h8M4 325.2h8M4 327.4h8" stroke="#8e9296" stroke-width="1.1"/><path d="M15 322.3l4.6 4.6m0 -4.6l-4.6 4.6" stroke="#8e9296" stroke-width="1.6"/><text x="22.1" y="328.6" font-family="Liberation Sans, Arial, sans-serif" font-size="7.2" fill="#cfd1d3" stroke="#cfd1d3" stroke-width="0.25" textLength="11.2" lengthAdjust="spacingAndGlyphs">CCI</text><text x="36.5" y="328.6" font-family="Liberation Sans, Arial, sans-serif" font-size="7.2" fill="#cfd1d3" stroke="#cfd1d3" stroke-width="0.25" textLength="12.5" lengthAdjust="spacingAndGlyphs">[20]</text><text x="52.2" y="328.6" font-family="Liberation Sans, Arial, sans-serif" font-size="7.2" fill="#cfd1d3" stroke="#cfd1d3" stroke-width="0.25" textLength="20.4" lengthAdjust="spacingAndGlyphs">-251.3</text><path d="M4 369.4h8M4 371.6h8M4 373.8h8" stroke="#8e9296" stroke-width="1.1"/><path d="M15 368.7l4.6 4.6m0 -4.6l-4.6 4.6" stroke="#8e9296" stroke-width="1.6"/><text x="22.1" y="375" font-family="Liberation Sans, Arial, sans-serif" font-size="7.2" fill="#cfd1d3" stroke="#cfd1d3" stroke-width="0.25" textLength="36.8" lengthAdjust="spacingAndGlyphs">Momentum</text><text x="63.9" y="375" font-family="Liberation Sans, Arial, sans-serif" font-size="7.2" fill="#cfd1d3" stroke="#cfd1d3" stroke-width="0.25" textLength="11.9" lengthAdjust="spacingAndGlyphs">[20]</text><text x="79.8" y="375" font-family="Liberation Sans, Arial, sans-serif" font-size="7.2" fill="#cfd1d3" stroke="#cfd1d3" stroke-width="0.25" textLength="22.2" lengthAdjust="spacingAndGlyphs">97.828</text><path d="M4 402.6h8M4 404.8h8M4 407.0h8" stroke="#8e9296" stroke-width="1.1"/><path d="M15 401.9l4.6 4.6m0 -4.6l-4.6 4.6" stroke="#8e9296" stroke-width="1.6"/><text x="22.1" y="408.2" font-family="Liberation Sans, Arial, sans-serif" font-size="7.2" fill="#cfd1d3" stroke="#cfd1d3" stroke-width="0.25" textLength="20.4" lengthAdjust="spacingAndGlyphs">Objem</text><text x="47.8" y="408.2" font-family="Liberation Sans, Arial, sans-serif" font-size="7.2" fill="#cfd1d3" stroke="#cfd1d3" stroke-width="0.25" textLength="26.2" lengthAdjust="spacingAndGlyphs">(tickový)</text><text x="79.8" y="408.2" font-family="Liberation Sans, Arial, sans-serif" font-size="7.2" fill="#cfd1d3" stroke="#cfd1d3" stroke-width="0.25" textLength="20.4" lengthAdjust="spacingAndGlyphs">11425</text><text x="3.5" y="420.6" font-family="Liberation Sans, Arial, sans-serif" font-size="8.6" fill="#d2d2d2" stroke="#d2d2d2" stroke-width="0.2">01.10.2025</text><text x="53.0" y="420.6" font-family="Liberation Sans, Arial, sans-serif" font-size="8.6" fill="#d2d2d2" stroke="#d2d2d2" stroke-width="0.2">08:00</text><text x="97.7" y="420.6" font-family="Liberation Sans, Arial, sans-serif" font-size="8.6" fill="#d2d2d2" stroke="#d2d2d2" stroke-width="0.2">13.10</text><text x="124.0" y="420.6" font-family="Liberation Sans, Arial, sans-serif" font-size="8.6" fill="#d2d2d2" stroke="#d2d2d2" stroke-width="0.2">08:00</text><text x="191.8" y="420.6" font-family="Liberation Sans, Arial, sans-serif" font-size="8.6" fill="#d2d2d2" stroke="#d2d2d2" stroke-width="0.2">23.10</text><text x="218.1" y="420.6" font-family="Liberation Sans, Arial, sans-serif" font-size="8.6" fill="#d2d2d2" stroke="#d2d2d2" stroke-width="0.2">08:00</text><text x="286.0" y="420.6" font-family="Liberation Sans, Arial, sans-serif" font-size="8.6" fill="#d2d2d2" stroke="#d2d2d2" stroke-width="0.2">04.11</text><text x="312.3" y="420.6" font-family="Liberation Sans, Arial, sans-serif" font-size="8.6" fill="#d2d2d2" stroke="#d2d2d2" stroke-width="0.2">08:00</text><text x="380.2" y="420.6" font-family="Liberation Sans, Arial, sans-serif" font-size="8.6" fill="#d2d2d2" stroke="#d2d2d2" stroke-width="0.2">14.11</text><text x="406.5" y="420.6" font-family="Liberation Sans, Arial, sans-serif" font-size="8.6" fill="#d2d2d2" stroke="#d2d2d2" stroke-width="0.2">08:00</text><text x="474.4" y="420.6" font-family="Liberation Sans, Arial, sans-serif" font-size="8.6" fill="#d2d2d2" stroke="#d2d2d2" stroke-width="0.2">26.11</text><text x="500.7" y="420.6" font-family="Liberation Sans, Arial, sans-serif" font-size="8.6" fill="#d2d2d2" stroke="#d2d2d2" stroke-width="0.2">08:00</text><text x="568.5" y="420.6" font-family="Liberation Sans, Arial, sans-serif" font-size="8.6" fill="#d2d2d2" stroke="#d2d2d2" stroke-width="0.2">09.12</text><text x="594.8" y="420.6" font-family="Liberation Sans, Arial, sans-serif" font-size="8.6" fill="#d2d2d2" stroke="#d2d2d2" stroke-width="0.2">08:00</text><text x="662.7" y="420.6" font-family="Liberation Sans, Arial, sans-serif" font-size="8.6" fill="#d2d2d2" stroke="#d2d2d2" stroke-width="0.2">19.12</text><text x="689.0" y="420.6" font-family="Liberation Sans, Arial, sans-serif" font-size="8.6" fill="#d2d2d2" stroke="#d2d2d2" stroke-width="0.2">08:00</text><text x="756.9" y="420.6" font-family="Liberation Sans, Arial, sans-serif" font-size="8.6" fill="#d2d2d2" stroke="#d2d2d2" stroke-width="0.2">02.01</text><text x="783.2" y="420.6" font-family="Liberation Sans, Arial, sans-serif" font-size="8.6" fill="#d2d2d2" stroke="#d2d2d2" stroke-width="0.2">12:00</text><text x="851.0" y="420.6" font-family="Liberation Sans, Arial, sans-serif" font-size="8.6" fill="#d2d2d2" stroke="#d2d2d2" stroke-width="0.2">14.01</text><text x="877.3" y="420.6" font-family="Liberation Sans, Arial, sans-serif" font-size="8.6" fill="#d2d2d2" stroke="#d2d2d2" stroke-width="0.2">12:00</text><text x="945.2" y="420.6" font-family="Liberation Sans, Arial, sans-serif" font-size="8.6" fill="#d2d2d2" stroke="#d2d2d2" stroke-width="0.2">19.01</text><text x="971.5" y="420.6" font-family="Liberation Sans, Arial, sans-serif" font-size="8.6" fill="#d2d2d2" stroke="#d2d2d2" stroke-width="0.2">00:00</text></svg>
</body></html>
